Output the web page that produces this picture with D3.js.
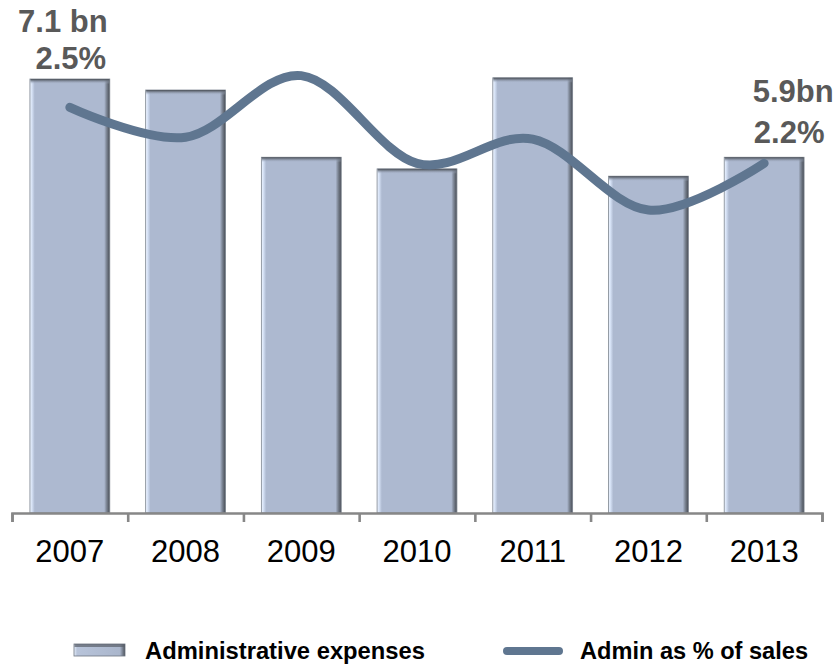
<!DOCTYPE html>
<html>
<head>
<meta charset="utf-8">
<script src="https://cdn.jsdelivr.net/npm/d3@7"></script>
<style>
  html, body { margin: 0; padding: 0; background: #fff; }
  svg { display: block; font-family: "Liberation Sans", Arial, sans-serif; }
</style>
</head>
<body>
<svg id="chart" width="839" height="664"></svg>
<script>
const years = ["2007", "2008", "2009", "2010", "2011", "2012", "2013"];
const expensesBn = [7.1, 6.92, 5.82, 5.63, 7.12, 5.51, 5.82];
const adminPct = [2.5, 2.34, 2.67, 2.2, 2.33, 1.95, 2.2];
const annotations = [
  { year: "2007", lines: ["7.1 bn", "2.5%"] },
  { year: "2013", lines: ["5.9bn", "2.2%"] }
];
const legendLabels = ["Administrative expenses", "Admin as % of sales"];

const svg = d3.select("#chart");
const defs = svg.append("defs");

const left = 12, right = 822, baseY = 513;

const x = d3.scaleBand().domain(years).range([left, right])
  .paddingInner(0.31).paddingOuter(0.155);
const xEdges = d3.scaleLinear().domain([0, years.length]).range([left, right]);
const y = d3.scaleLinear().domain([0, 8]).range([baseY, 24]);
const y2 = d3.scaleLinear().domain([1.5, 3.0]).range([294, 14]);

// bar gradients
const gh = defs.append("linearGradient").attr("id", "barH")
  .attr("x1", 0).attr("x2", 1).attr("y1", 0).attr("y2", 0);
[[0, "#f0f6ff"], [0.025, "#d6e2f6"], [0.06, "#adb9d0"], [0.93, "#adb9d0"],
 [0.96, "#7c8594"], [1, "#474c54"]].forEach(([o, c]) =>
  gh.append("stop").attr("offset", o).attr("stop-color", c));
const gv = defs.append("linearGradient").attr("id", "barV")
  .attr("x1", 0).attr("x2", 0).attr("y1", 0).attr("y2", 1);
[[0, "#4a4f57", 1], [0.35, "#6f7784", 0.8], [1, "#adb9d0", 0]].forEach(([o, c, a]) =>
  gv.append("stop").attr("offset", o).attr("stop-color", c).attr("stop-opacity", a));

const bars = svg.append("g");
bars.selectAll("rect.bar").data(years).join("rect")
  .attr("class", "bar")
  .attr("x", d => x(d))
  .attr("y", (d, i) => y(expensesBn[i]))
  .attr("width", x.bandwidth())
  .attr("height", (d, i) => baseY - y(expensesBn[i]))
  .attr("fill", "url(#barH)")
  .attr("stroke", "#7d8590").attr("stroke-width", 0.8);
bars.selectAll("rect.top").data(years).join("rect")
  .attr("class", "top")
  .attr("x", d => x(d) + 0.5)
  .attr("y", (d, i) => y(expensesBn[i]))
  .attr("width", x.bandwidth() - 1)
  .attr("height", 5)
  .attr("fill", "url(#barV)");

// axis
const axisG = svg.append("g").attr("transform", `translate(0,${baseY})`);
axisG.call(d3.axisBottom(xEdges).ticks(years.length).tickSize(9).tickFormat(""))
  .call(g => g.select(".domain").attr("stroke", "#878787").attr("stroke-width", 2.6))
  .call(g => g.selectAll(".tick line").attr("stroke", "#878787").attr("stroke-width", 2.6));
const labG = svg.append("g").attr("transform", `translate(0,${baseY})`);
labG.call(d3.axisBottom(x).tickSize(0).tickPadding(0))
  .call(g => g.select(".domain").remove())
  .call(g => g.selectAll("text")
    .attr("dy", null).attr("y", 49)
    .attr("font-size", 31).attr("fill", "#000")
    .attr("font-family", "'Liberation Sans', Arial, sans-serif"));

// line
const line = d3.line()
  .x((d, i) => x(years[i]) + x.bandwidth() / 2)
  .y(d => y2(d))
  .curve(d3.curveCatmullRom.alpha(0));
svg.append("path").datum(adminPct)
  .attr("d", line)
  .attr("fill", "none")
  .attr("stroke", "#5f7690")
  .attr("stroke-width", 9)
  .attr("stroke-linecap", "round")
  .attr("stroke-linejoin", "round");

// annotations
const annPos = { "2007": [[-7, 32], [1, 69]], "2013": [[29, 102], [25, 143]] };
annotations.forEach(a => {
  const cx = x(a.year) + x.bandwidth() / 2;
  a.lines.forEach((t, j) => {
    svg.append("text")
      .attr("x", cx + annPos[a.year][j][0])
      .attr("y", annPos[a.year][j][1])
      .attr("text-anchor", "middle")
      .attr("font-size", 31).attr("font-weight", "bold")
      .attr("fill", "#595959")
      .text(t);
  });
});

// legend
const lg = svg.append("g");
const gl = defs.append("linearGradient").attr("id", "legH")
  .attr("x1", 0).attr("x2", 1).attr("y1", 0).attr("y2", 0);
[[0, "#e8f0fc"], [0.06, "#b8c4da"], [0.9, "#aab6cc"], [1, "#4d535c"]].forEach(([o, c]) =>
  gl.append("stop").attr("offset", o).attr("stop-color", c));
lg.append("rect").attr("x", 74).attr("y", 644).attr("width", 51).attr("height", 12)
  .attr("fill", "url(#legH)").attr("stroke", "#6d7480").attr("stroke-width", 0.8);
lg.append("rect").attr("x", 74.5).attr("y", 644).attr("width", 50).attr("height", 3)
  .attr("fill", "#5a606a").attr("opacity", 0.7);
lg.append("text").attr("x", 145).attr("y", 659)
  .attr("font-size", 23.5).attr("font-weight", "bold").attr("fill", "#000")
  .attr("textLength", 280).attr("lengthAdjust", "spacingAndGlyphs")
  .text(legendLabels[0]);
lg.append("line").attr("x1", 507).attr("x2", 559).attr("y1", 651).attr("y2", 651)
  .attr("stroke", "#5f7690").attr("stroke-width", 8).attr("stroke-linecap", "round");
lg.append("text").attr("x", 580).attr("y", 659)
  .attr("font-size", 23.5).attr("font-weight", "bold").attr("fill", "#000")
  .attr("textLength", 228).attr("lengthAdjust", "spacingAndGlyphs")
  .text(legendLabels[1]);
</script>
</body>
</html>
